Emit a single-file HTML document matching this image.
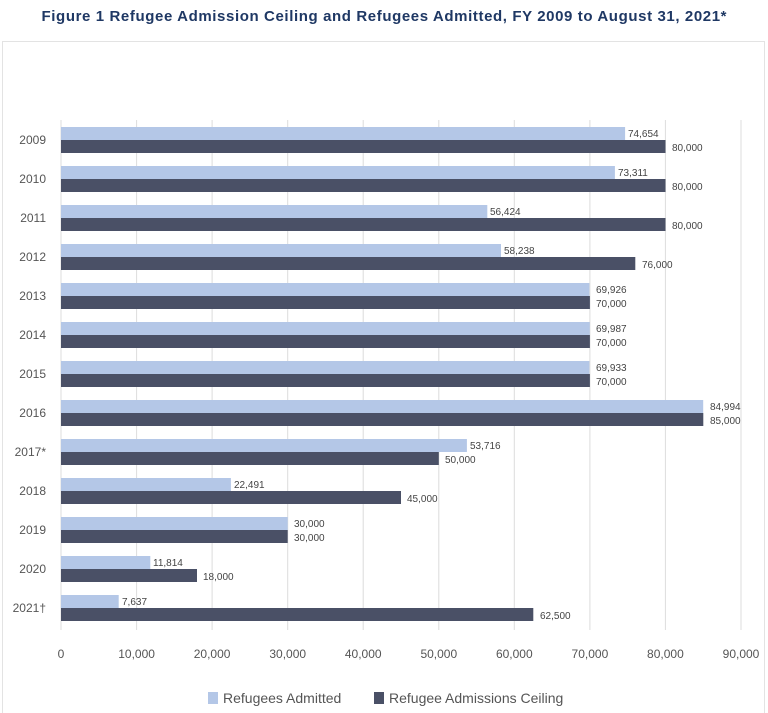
<!DOCTYPE html>
<html><head><meta charset="utf-8"><style>
body{margin:0;background:#fff;width:768px;height:713px;overflow:hidden}
svg{display:block;font-family:"Liberation Sans",sans-serif}
</style></head><body>
<svg width="768" height="713" viewBox="0 0 768 713">
<text x="384" y="21" text-anchor="middle" font-size="15" font-weight="bold" fill="#1f3864" textLength="685" lengthAdjust="spacing">Figure 1 Refugee Admission Ceiling and Refugees Admitted, FY 2009 to August 31, 2021*</text>
<rect x="2.5" y="41.5" width="762" height="680" fill="none" stroke="#e3e3e3"/>
<g stroke="#dcdcdc" stroke-width="1">
<line x1="61" y1="120" x2="61" y2="630"/><line x1="136.6" y1="120" x2="136.6" y2="630"/><line x1="212.1" y1="120" x2="212.1" y2="630"/><line x1="287.7" y1="120" x2="287.7" y2="630"/><line x1="363.2" y1="120" x2="363.2" y2="630"/><line x1="438.8" y1="120" x2="438.8" y2="630"/><line x1="514.3" y1="120" x2="514.3" y2="630"/><line x1="589.9" y1="120" x2="589.9" y2="630"/><line x1="665.4" y1="120" x2="665.4" y2="630"/><line x1="741" y1="120" x2="741" y2="630"/>
</g>
<g fill="#b4c7e7">
<rect x="61" y="127" width="564.1" height="13"/>
<rect x="61" y="166" width="553.9" height="13"/>
<rect x="61" y="205" width="426.3" height="13"/>
<rect x="61" y="244" width="440" height="13"/>
<rect x="61" y="283" width="528.4" height="13"/>
<rect x="61" y="322" width="528.8" height="13"/>
<rect x="61" y="361" width="528.4" height="13"/>
<rect x="61" y="400" width="642.2" height="13"/>
<rect x="61" y="439" width="405.9" height="13"/>
<rect x="61" y="478" width="169.9" height="13"/>
<rect x="61" y="517" width="226.7" height="13"/>
<rect x="61" y="556" width="89.3" height="13"/>
<rect x="61" y="595" width="57.7" height="13"/>
</g>
<g fill="#4a5066">
<rect x="61" y="140" width="604.5" height="13"/>
<rect x="61" y="179" width="604.5" height="13"/>
<rect x="61" y="218" width="604.5" height="13"/>
<rect x="61" y="257" width="574.3" height="13"/>
<rect x="61" y="296" width="528.9" height="13"/>
<rect x="61" y="335" width="528.9" height="13"/>
<rect x="61" y="374" width="528.9" height="13"/>
<rect x="61" y="413" width="642.3" height="13"/>
<rect x="61" y="452" width="377.8" height="13"/>
<rect x="61" y="491" width="340" height="13"/>
<rect x="61" y="530" width="226.7" height="13"/>
<rect x="61" y="569" width="136" height="13"/>
<rect x="61" y="608" width="472.3" height="13"/>
</g>
<g font-size="10" fill="#444">
<text x="628" y="137">74,654</text><text x="672" y="151">80,000</text>
<text x="618" y="176">73,311</text><text x="672" y="190">80,000</text>
<text x="490" y="215">56,424</text><text x="672" y="229">80,000</text>
<text x="504" y="254">58,238</text><text x="642" y="268">76,000</text>
<text x="596" y="293">69,926</text><text x="596" y="307">70,000</text>
<text x="596" y="332">69,987</text><text x="596" y="346">70,000</text>
<text x="596" y="371">69,933</text><text x="596" y="385">70,000</text>
<text x="710" y="410">84,994</text><text x="710" y="424">85,000</text>
<text x="470" y="449">53,716</text><text x="445" y="463">50,000</text>
<text x="234" y="488">22,491</text><text x="407" y="502">45,000</text>
<text x="294" y="527">30,000</text><text x="294" y="541">30,000</text>
<text x="153" y="566">11,814</text><text x="203" y="580">18,000</text>
<text x="122" y="605">7,637</text><text x="540" y="619">62,500</text>
</g>
<g font-size="12" fill="#555" text-anchor="end">
<text x="46" y="144">2009</text><text x="46" y="183">2010</text><text x="46" y="222">2011</text><text x="46" y="261">2012</text><text x="46" y="300">2013</text><text x="46" y="339">2014</text><text x="46" y="378">2015</text><text x="46" y="417">2016</text><text x="46" y="456">2017*</text><text x="46" y="495">2018</text><text x="46" y="534">2019</text><text x="46" y="573">2020</text><text x="46" y="612">2021†</text>
</g>
<g font-size="12" fill="#555" text-anchor="middle">
<text x="61" y="658">0</text><text x="136.6" y="658">10,000</text><text x="212.1" y="658">20,000</text><text x="287.7" y="658">30,000</text><text x="363.2" y="658">40,000</text><text x="438.8" y="658">50,000</text><text x="514.3" y="658">60,000</text><text x="589.9" y="658">70,000</text><text x="665.4" y="658">80,000</text><text x="741" y="658">90,000</text>
</g>
<rect x="208" y="692" width="10" height="12" fill="#b4c7e7"/>
<text x="223" y="703" font-size="14" fill="#555">Refugees Admitted</text>
<rect x="374" y="692" width="10" height="12" fill="#4a5066"/>
<text x="389" y="703" font-size="14" fill="#555">Refugee Admissions Ceiling</text>
</svg>
</body></html>
